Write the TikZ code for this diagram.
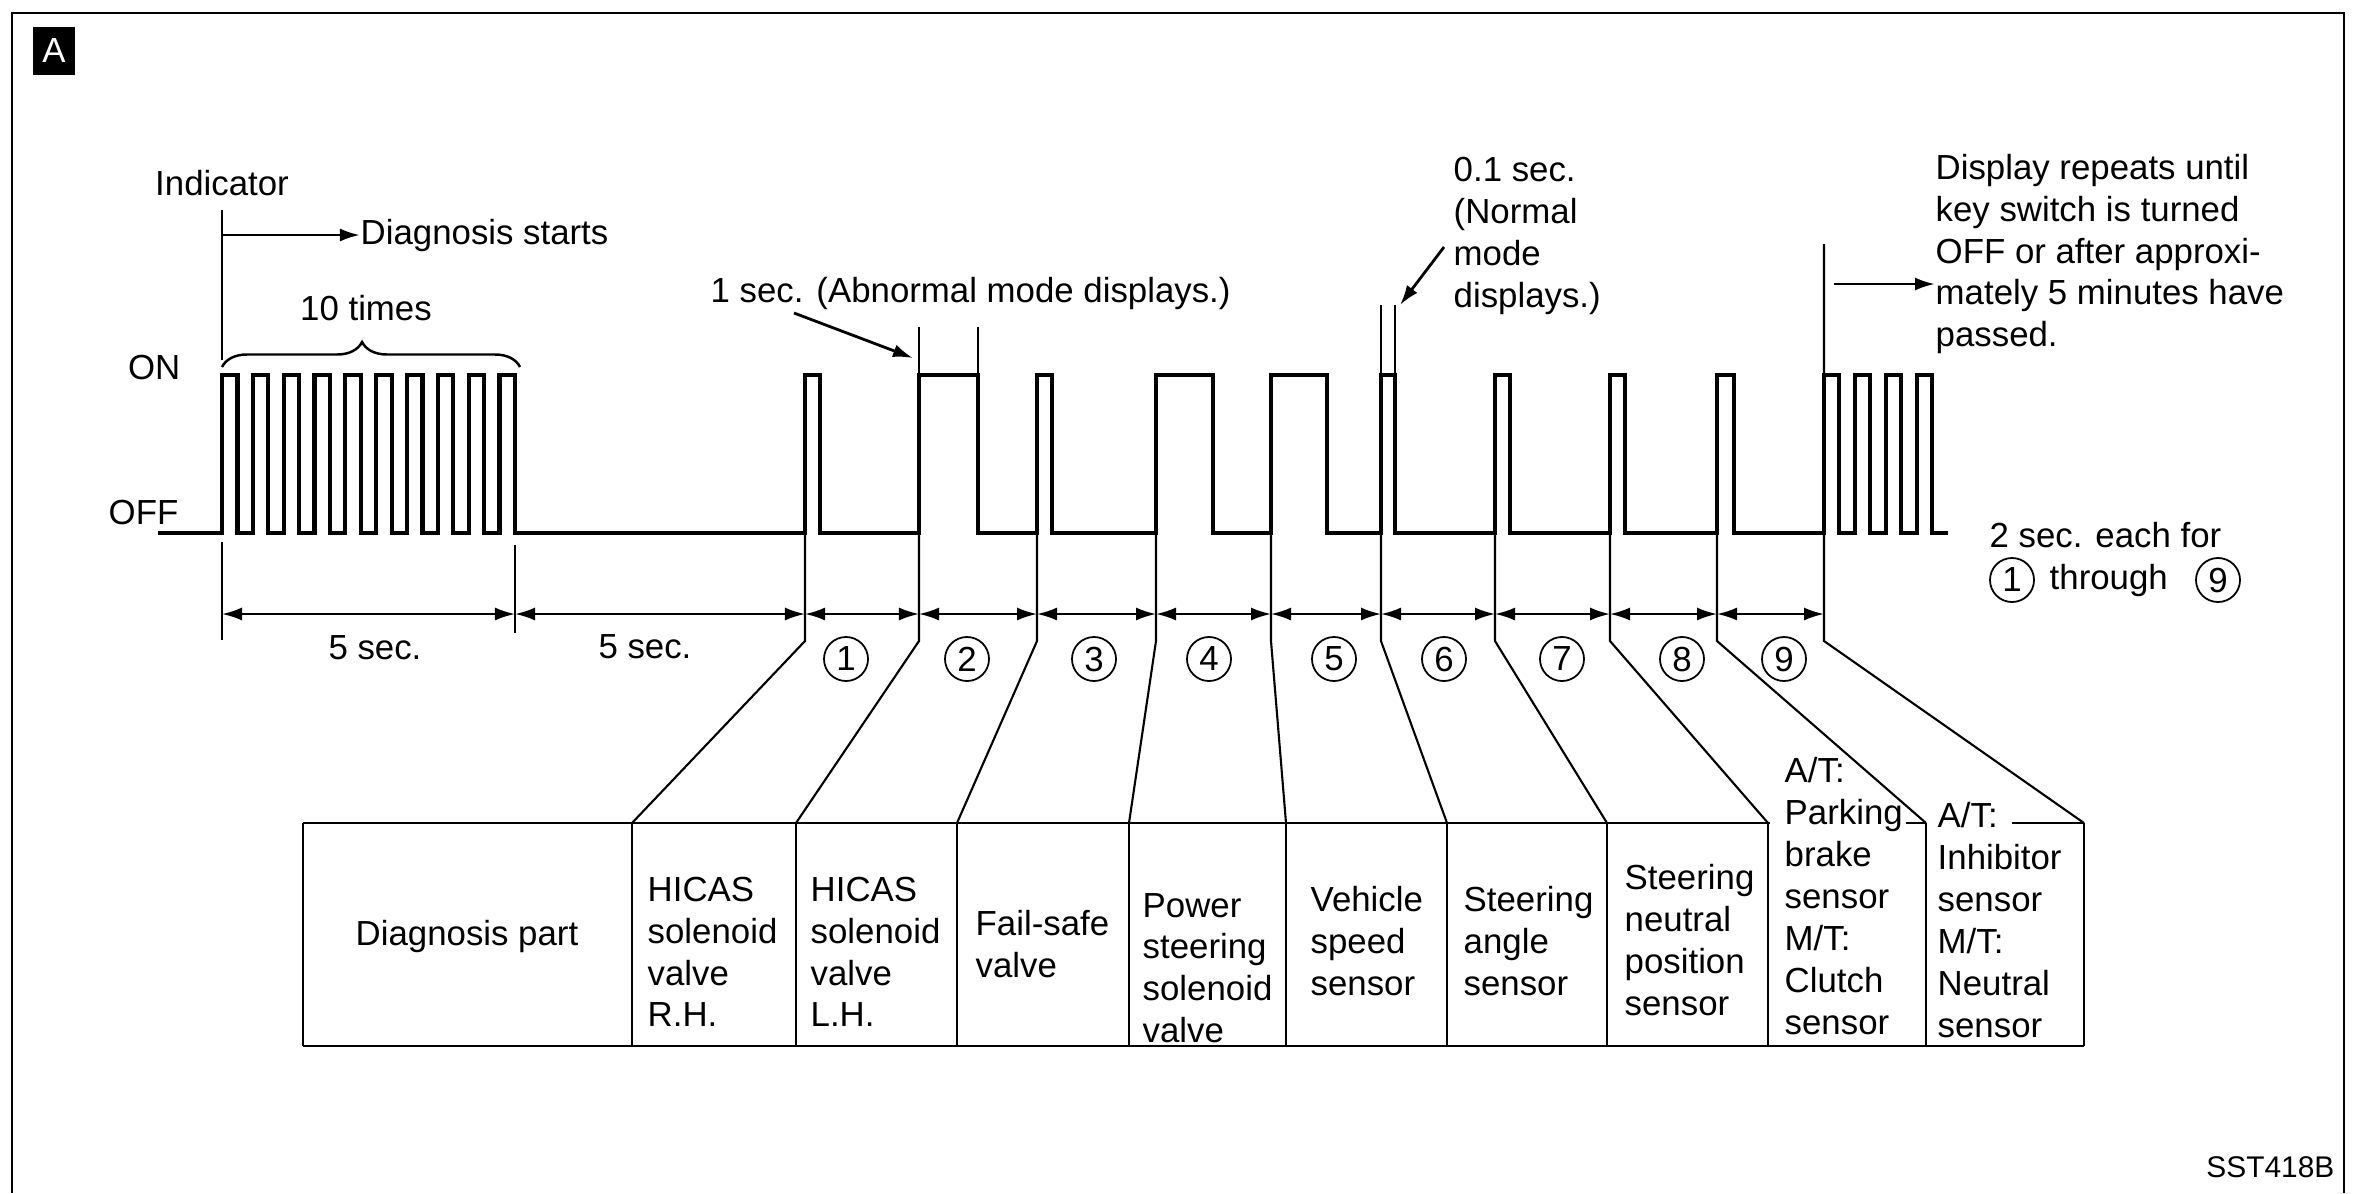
\documentclass[tikz,border=0pt]{standalone}
\usepackage{fontspec}
\setmainfont{Liberation Sans}
\usetikzlibrary{arrows.meta,decorations.pathreplacing}

\newcommand{\figfont}{\fontsize{9.9pt}{11.9pt}\selectfont}

\tikzset{
  lbl/.style={inner sep=0pt, font=\figfont},
  cell/.style={inner sep=0pt, anchor=west, align=left, font=\figfont},
  num/.style={draw, circle, line width=0.5pt, minimum size=0.44cm, inner sep=0pt, font=\figfont},
  wave/.style={line width=1.2pt, line join=miter},
  fan/.style={line width=0.6pt},
  grid/.style={line width=0.7pt},
  dim/.style={line width=0.6pt, {Latex[length=2mm,width=1.3mm]}-{Latex[length=2mm,width=1.3mm]}},
  ptr/.style={line width=0.8pt, -{Latex[length=2mm,width=1.3mm]}},
}

\begin{document}
\begin{tikzpicture}[x=0.01cm,y=-0.01cm]
\useasboundingbox (0,0) rectangle (2354,1193);
\draw[line width=0.6pt] (12,1193) -- (12,13) -- (2344,13) -- (2344,1193);
\node[fill=black, text=white, minimum width=0.42cm, minimum height=0.48cm, inner sep=0pt, font=\figfont] (tag) at (54,51) {A};

\node[lbl] (ind) at (222,183) {Indicator};
\node[lbl, anchor=west] (start) at (360,235) {Diagnosis starts};
\coordinate (go) at (223,235);
\draw[fan] (222,210) -- (222,360);
\draw[ptr] (go) -- (start.west);
\node[lbl] (ten) at (366,308) {10 times};
\draw[line width=0.7pt, decorate, decoration={brace, amplitude=0.25cm, aspect=0.47}] (222,367) -- (520,367);
\node[lbl, anchor=east] (on) at (181,368) {ON};
\node[lbl, anchor=east] (off) at (179,512) {OFF};

\draw[wave] (158,533) -- (222,533)
  \foreach \i in {0,...,9} { -- ++(0,-158) -- ++(15.42,0) -- ++(0,158) -- ++(15.42,0) }
  -- (805,533) -- (805,375) -- (820,375) -- (820,533)
  -- (919,533) -- (919,375) -- (978,375) -- (978,533)
  -- (1037,533) -- (1037,375) -- (1052,375) -- (1052,533)
  -- (1156,533) -- (1156,375) -- (1213,375) -- (1213,533)
  -- (1271,533) -- (1271,375) -- (1327,375) -- (1327,533)
  -- (1381,533) -- (1381,375) -- (1395,375) -- (1395,533)
  -- (1495,533) -- (1495,375) -- (1510,375) -- (1510,533)
  -- (1610,533) -- (1610,375) -- (1625,375) -- (1625,533)
  -- (1717,533) -- (1717,375) -- (1734,375) -- (1734,533)
  -- (1824,533)
  \foreach \i in {0,...,3} { -- ++(0,-158) -- ++(15,0) -- ++(0,158) -- ++(16,0) };

\node[lbl, anchor=west] (abn) at (710,293) {1 sec. (Abnormal mode displays.)};
\coordinate (abnfrom) at (794,313);
\coordinate (abnto) at (913,358);
\draw[ptr] (abnfrom) -- (abnto);
\draw[fan] (919,327) -- (919,375);
\draw[fan] (978,327) -- (978,375);

\node[cell] (nrm) at (1453,236) {0.1 sec.\\(Normal\\mode\\displays.)};
\coordinate (nrmfrom) at (1444,247);
\coordinate (nrmto) at (1400,305);
\draw[ptr] (nrmfrom) -- (nrmto);
\draw[fan] (1381,305) -- (1381,375);
\draw[fan] (1395,305) -- (1395,375);

\node[cell] (rep) at (1935,254) {Display repeats until\\key switch is turned\\OFF or after approxi-\\mately 5 minutes have\\passed.};
\coordinate (repfrom) at (1834,284);
\draw[ptr] (repfrom) -- (rep.west |- repfrom);

\node[lbl, anchor=west] (each) at (1989,535) {2 sec. each for};
\node[num] (r1) at (2012,580) {1};
\node[lbl, anchor=west] (thr) at (2049,580) {through};
\node[num] (r9) at (2218,580) {9};

\draw[fan] (222,542) -- (222,640);
\draw[fan] (515,545) -- (515,633);
\foreach \dx [count=\k from 0] in {222,515,805,919,1037,1156,1271,1381,1495,1610,1717,1824}
  \coordinate (d\k) at (\dx,614);
\foreach \a/\b in {0/1,1/2,2/3,3/4,4/5,5/6,6/7,7/8,8/9,9/10,10/11}
  \draw[dim] (d\a) -- (d\b);
\node[lbl] (five1) at (375,648) {5 sec.};
\node[lbl] (five2) at (645,647) {5 sec.};

\foreach \bx/\by/\tx [count=\k] in {805/533/632,919/533/796,1037/533/957,1156/533/1129,1271/533/1286,1381/533/1447,1495/533/1607,1610/533/1768,1717/533/1926,1824/244/2084} {
  \coordinate (top\k) at (\bx,\by);
  \coordinate (knee\k) at (\bx,641);
  \coordinate (foot\k) at (\tx,823);
  \draw[fan] (top\k) -- (knee\k) -- (foot\k);
}

\node[num] (n1) at (846,659) {1};
\node[num] (n2) at (967,659) {2};
\node[num] (n3) at (1094,659) {3};
\node[num] (n4) at (1209,659) {4};
\node[num] (n5) at (1334,659) {5};
\node[num] (n6) at (1444,659) {6};
\node[num] (n7) at (1562,659) {7};
\node[num] (n8) at (1682,659) {8};
\node[num] (n9) at (1784,659) {9};

\draw[grid] (303,823) -- (1770,823);
\draw[grid] (1906,823) -- (1926,823);
\draw[grid] (2012,823) -- (2084,823);
\draw[grid] (303,1046) -- (2084,1046);
\foreach \cx in {303,632,796,957,1129,1286,1447,1607,1768,1926,2084}
  \draw[grid] (\cx,823) -- (\cx,1046);

\node[lbl] (c0) at (467,936) {Diagnosis part};
\node[cell] (c1) at (647,952) {HICAS\\solenoid\\valve\\R.H.};
\node[cell] (c2) at (810,952) {HICAS\\solenoid\\valve\\L.H.};
\node[cell] (c3) at (975,944) {Fail-safe\\valve};
\node[cell] (c4) at (1142,968) {Power\\steering\\solenoid\\valve};
\node[cell] (c5) at (1310,941) {Vehicle\\speed\\sensor};
\node[cell] (c6) at (1463,941) {Steering\\angle\\sensor};
\node[cell] (c7) at (1624,940) {Steering\\neutral\\position\\sensor};
\node[cell] (c8) at (1784,896) {A/T:\\Parking\\brake\\sensor\\M/T:\\Clutch\\sensor};
\node[cell] (c9) at (1937,920) {A/T:\\Inhibitor\\sensor\\M/T:\\Neutral\\sensor};

\node[lbl, anchor=east, font=\fontsize{8.5pt}{10pt}\selectfont] (code) at (2335,1167) {SST418B};
\end{tikzpicture}
\end{document}
